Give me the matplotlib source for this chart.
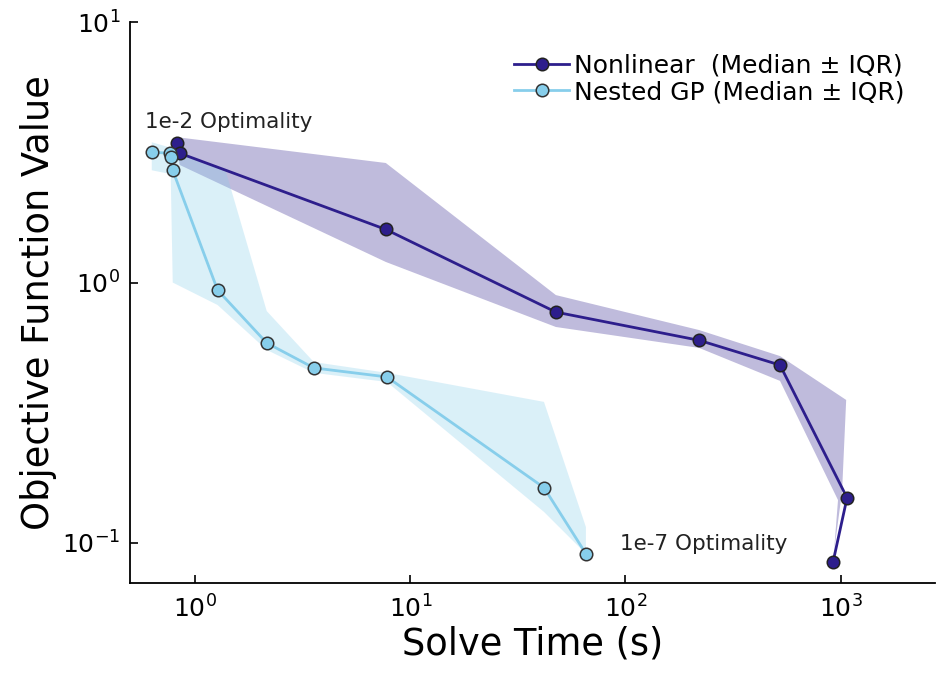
import numpy as np
import matplotlib
matplotlib.use('Agg')
import matplotlib.pyplot as plt

# medians (solve time [s], objective)
nl_time = [0.82, 0.847, 7.69, 47.5, 220, 523, 1072, 923]
nl_obj = [3.43, 3.14, 1.60, 0.77, 0.60, 0.482, 0.149, 0.0845]
gp_time = [0.628, 0.761, 0.769, 0.786, 1.27, 2.15, 3.56, 7.78, 41.8, 65.5]
gp_obj = [3.17, 3.14, 3.03, 2.70, 0.936, 0.586, 0.470, 0.434, 0.163, 0.0908]

# IQR band outlines
nl_up_t = [0.82, 7.69, 47.5, 220, 523, 1062, 1016, 923]
nl_up_o = [3.62, 2.88, 0.895, 0.657, 0.522, 0.354, 0.157, 0.087]
nl_lo_t = [0.82, 0.847, 7.69, 47.5, 220, 523, 973, 923]
nl_lo_o = [3.30, 2.83, 1.20, 0.675, 0.561, 0.419, 0.146, 0.083]

gp_up_t = [0.628, 0.786, 1.39, 2.15, 3.56, 7.78, 41.8, 65.5]
gp_up_o = [3.46, 3.28, 2.66, 0.777, 0.495, 0.450, 0.348, 0.115]
gp_lo_t = [0.628, 0.769, 0.786, 1.27, 2.15, 3.56, 7.78, 41.8, 65.5]
gp_lo_o = [2.70, 2.61, 1.00, 0.82, 0.551, 0.45, 0.415, 0.1315, 0.0908]

c_nl = '#2d1e8c'
c_gp = '#87ceeb'

fig = plt.figure(figsize=(9.36, 6.75), dpi=100)
ax = fig.add_axes([0.139, 0.137, 0.86, 0.83])

def band(ax, ut, uo, lt, lo, col):
	xs = list(ut) + list(lt)[::-1]
	ys = list(uo) + list(lo)[::-1]
	ax.fill(xs, ys, color=col, alpha=0.3, lw=0)

band(ax, nl_up_t, nl_up_o, nl_lo_t, nl_lo_o, c_nl)
band(ax, gp_up_t, gp_up_o, gp_lo_t, gp_lo_o, c_gp)

ax.plot(nl_time, nl_obj, color=c_nl, lw=2.0, marker='o', ms=9,
	mfc=c_nl, mec='#222222', mew=1.1, label='Nonlinear  (Median ± IQR)')
ax.plot(gp_time, gp_obj, color=c_gp, lw=2.0, marker='o', ms=9,
	mfc=c_gp, mec='#333333', mew=1.1, label='Nested GP (Median ± IQR)')

ax.text(0.582, 4.13, '1e-2 Optimality', fontsize=15.5, ha='left', va='center', color='#222222')
ax.text(94.2, 0.099, '1e-7 Optimality', fontsize=15.5, ha='left', va='center', color='#222222')

ax.set_xscale('log')
ax.set_yscale('log')
ax.set_xlim(0.498, 2750)
ax.set_ylim(0.0704, 10)
ax.set_xticks([1, 10, 100, 1000])
ax.set_yticks([0.1, 1, 10])
ax.minorticks_off()
ax.tick_params(direction='in', length=6, width=1.2, labelsize=18, pad=9)
ax.tick_params(axis='y', pad=7)
for s in ['top', 'right']:
	ax.spines[s].set_visible(False)
for s in ['left', 'bottom']:
	ax.spines[s].set_linewidth(1.3)

ax.set_xlabel('Solve Time (s)', fontsize=26.5, labelpad=2)
ax.set_ylabel('Objective Function Value', fontsize=26.5, labelpad=4)

ax.legend(loc='upper right', bbox_to_anchor=(0.975, 0.962), frameon=False, fontsize=18,
	handlelength=2.2, handletextpad=0.2, labelspacing=0.1, borderaxespad=0.0)

fig.savefig('out.png', dpi=100)
